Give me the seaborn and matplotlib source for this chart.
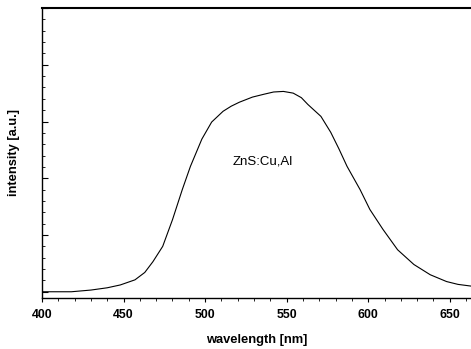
"""
ZnS:Cu,Al emission spectrum
"""
import pandas as pd
import numpy as np
import matplotlib
matplotlib.use('Agg')
import matplotlib.pyplot as plt
import seaborn as sns
from matplotlib import font_manager
from matplotlib.ticker import MultipleLocator

# spectrum
wavelength = [400, 410, 418, 430, 440, 448, 457, 463, 468, 474, 480, 486, 491,
              498, 504, 511, 516, 521, 529, 536, 542, 548, 554, 559, 563, 571,
              577, 582, 587, 595, 601, 609, 618, 628, 638, 648, 655, 663]
intensity = [0.0, 0.0, 0.0, 0.03, 0.07, 0.12, 0.21, 0.34, 0.53, 0.80, 1.27,
             1.80, 2.21, 2.69, 2.99, 3.18, 3.27, 3.34, 3.43, 3.48, 3.52, 3.53,
             3.50, 3.42, 3.30, 3.09, 2.81, 2.52, 2.21, 1.80, 1.45, 1.10, 0.74,
             0.48, 0.30, 0.18, 0.13, 0.10]
x_ticks = [400, 450, 500, 550, 600, 650]

sns.set_style('ticks', {'axes.edgecolor': 'black', 'text.color': 'black',
                        'xtick.color': 'black', 'ytick.color': 'black',
                        'axes.labelcolor': 'black'})
plt.rcParams['font.family'] = ['Liberation Sans', 'DejaVu Sans']


def pick_font(bold):
    # avoid the Narrow cut of Liberation Sans
    for f in font_manager.fontManager.ttflist:
        if f.name == 'Liberation Sans' and f.style == 'normal':
            is_bold = f.weight in (700, 'bold')
            if is_bold == bold:
                return font_manager.FontProperties(fname=f.fname)
    return font_manager.FontProperties(family='DejaVu Sans',
                                       weight='bold' if bold else 'normal')


bold_font = pick_font(True)
plain_font = pick_font(False)

data = pd.DataFrame({'wavelength': wavelength, 'intensity': intensity})

fig = plt.figure(figsize=(4.71, 3.49), dpi=100)
ax = fig.add_axes([42 / 471, 51 / 349, 1 - 42 / 471, 290 / 349])

sns.lineplot(data=data, x='wavelength', y='intensity', ax=ax,
             color='black', linewidth=0.8)

ax.set_xlim(400, 663)
ax.set_ylim(-0.11, 5.0)
ax.set_xticks(x_ticks)
ax.set_xticklabels([str(t) for t in x_ticks])
for lab in ax.get_xticklabels():
    lab.set_fontproperties(bold_font)
    lab.set_fontsize(8.8)
ax.xaxis.set_minor_locator(MultipleLocator(10))
ax.yaxis.set_major_locator(MultipleLocator(1))
ax.yaxis.set_minor_locator(MultipleLocator(0.2))
ax.set_yticklabels([])
ax.tick_params(axis='x', which='major', direction='out', length=3, width=0.8, pad=5)
ax.tick_params(axis='x', which='minor', direction='out', length=2, width=0.6)
ax.tick_params(axis='y', which='major', direction='in', length=4, width=0.8)
ax.tick_params(axis='y', which='minor', direction='in', length=2, width=0.6)

ax.set_xlabel('wavelength [nm]', fontproperties=bold_font, fontsize=9.3, labelpad=9)
ax.set_ylabel('intensity [a.u.]', fontproperties=bold_font, fontsize=9.3, labelpad=12)

ax.text(535.5, 2.30, 'ZnS:Cu,Al', fontproperties=plain_font, fontsize=9.5,
        ha='center', va='center')

ax.spines['right'].set_visible(False)
ax.spines['top'].set_linewidth(1.5)
ax.spines['left'].set_linewidth(1.0)
ax.spines['bottom'].set_linewidth(1.0)

fig.savefig('out.png', dpi=100)
